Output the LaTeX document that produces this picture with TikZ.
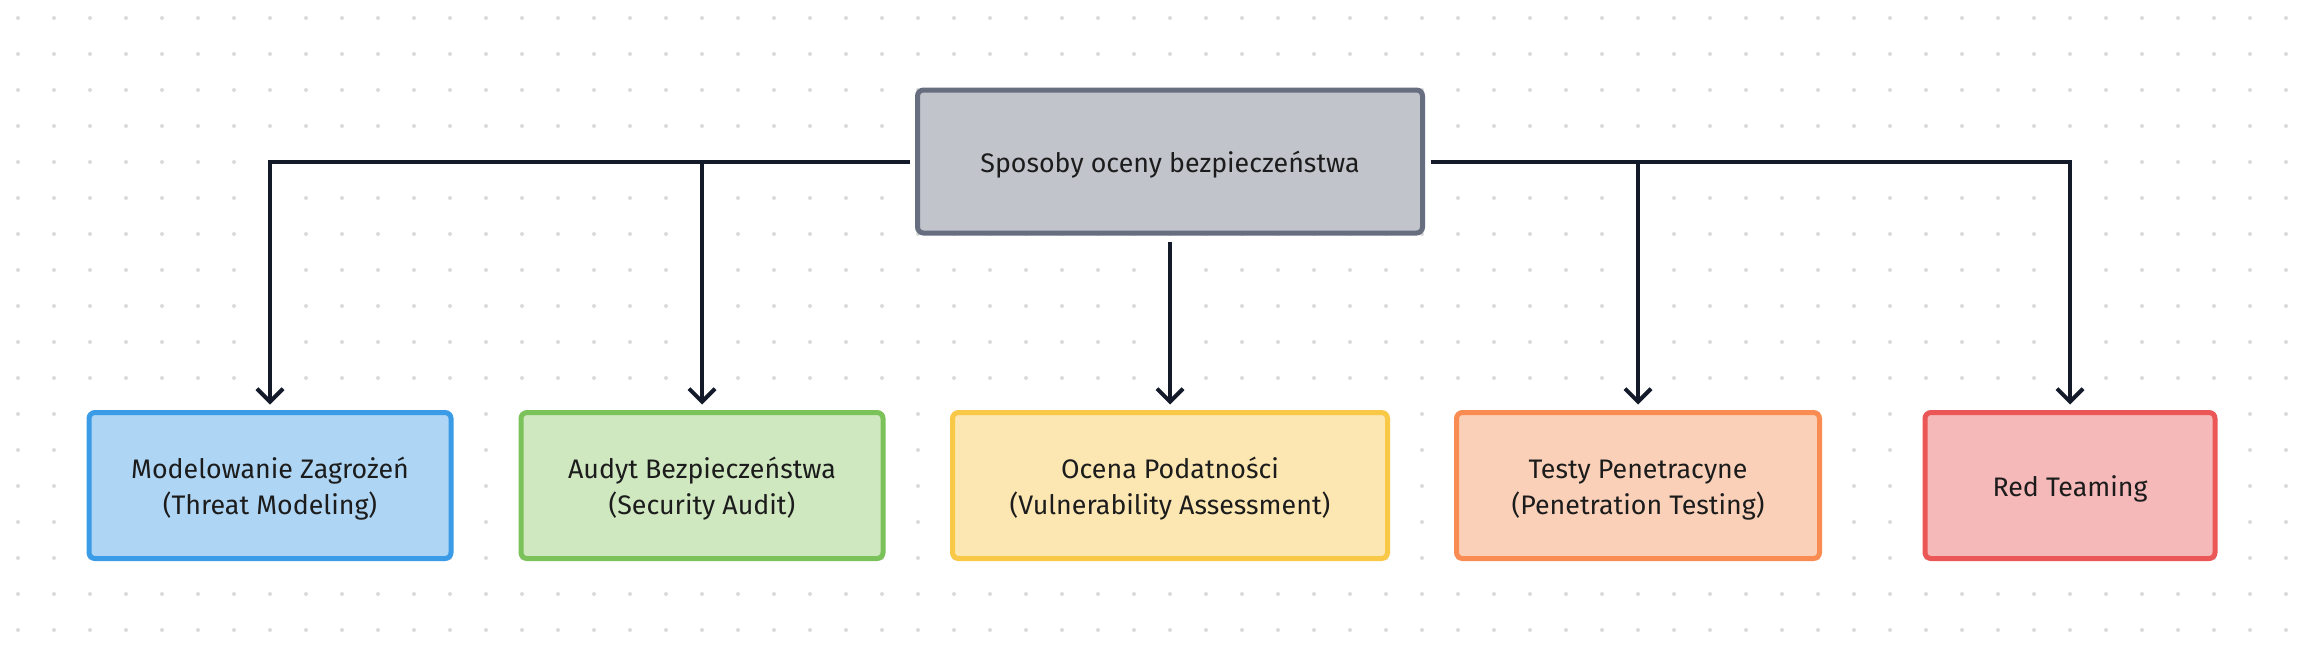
\documentclass[tikz,border=0pt]{standalone}
\usepackage{fontspec}
\setmainfont{Fira Sans}
\usetikzlibrary{arrows.meta}
\definecolor{linec}{HTML}{131A2A}
\definecolor{txtc}{HTML}{1C1C1C}
\definecolor{dotc}{HTML}{DADADA}
\definecolor{topf}{HTML}{C1C4CB}
\definecolor{topd}{HTML}{676E80}
\definecolor{bluef}{HTML}{AED5F4}
\definecolor{blued}{HTML}{3A9CE6}
\definecolor{greenf}{HTML}{CFE8C0}
\definecolor{greend}{HTML}{7BC25A}
\definecolor{yellowf}{HTML}{FCE7B2}
\definecolor{yellowd}{HTML}{F9C846}
\definecolor{orangef}{HTML}{FAD1B8}
\definecolor{oranged}{HTML}{F98C52}
\definecolor{redf}{HTML}{F5B9B9}
\definecolor{redd}{HTML}{EB5656}
\newcommand{\mylbl}[1]{\raisebox{-3.5pt}[\height][\depth]{\begin{tabular}{@{}c@{}}#1\end{tabular}}}
\tikzset{
  box/.style={rectangle, rounded corners=6pt, line width=5pt, outer sep=0pt,
    inner sep=0pt, text=txtc,
    font=\fontsize{26.8}{36.5}\selectfont},
  conn/.style={draw=linec, line width=4pt,
    -{Straight Barb[length=13pt,width=26pt]}},
}
\begin{document}
\begin{tikzpicture}[x=1pt,y=-1pt]
\useasboundingbox (0,0) rectangle (2304,648);
\fill[white] (0,0) rectangle (2304,648);
\foreach \i in {0,...,63}{
  \foreach \j in {0,...,17}{
    \fill[dotc] (18+36*\i,18+36*\j) circle (2pt);
  }
}
\node[box, draw=topd, fill=topf, minimum width=505pt, minimum height=143pt] (top) at (1170,161.5) {\mylbl{Sposoby oceny bezpieczeństwa}};
\node[box, draw=blued, fill=bluef, minimum width=362pt, minimum height=146pt] (m1) at (270,485.5) {\mylbl{Modelowanie Zagrożeń\\(Threat Modeling)}};
\node[box, draw=greend, fill=greenf, minimum width=362pt, minimum height=146pt] (m2) at (702,485.5) {\mylbl{Audyt Bezpieczeństwa\\(Security Audit)}};
\node[box, draw=yellowd, fill=yellowf, minimum width=435pt, minimum height=146pt] (m3) at (1170,485.5) {\mylbl{Ocena Podatności\\(Vulnerability Assessment)}};
\node[box, draw=oranged, fill=orangef, minimum width=363pt, minimum height=146pt] (m4) at (1638,485.5) {\mylbl{Testy Penetracyne\\(Penetration Testing)}};
\node[box, draw=redd, fill=redf, minimum width=290pt, minimum height=146pt] (m5) at (2070,485.5) {\mylbl{Red Teaming}};
\draw[conn, shorten <=8pt, shorten >=8pt] (top.west) -| (m1.north);
\draw[conn, shorten <=8pt, shorten >=8pt] (top.west) -| (m2.north);
\draw[conn, shorten <=9pt, shorten >=8pt] (top.south) -- (m3.north);
\draw[conn, shorten <=8pt, shorten >=8pt] (top.east) -| (m4.north);
\draw[conn, shorten <=8pt, shorten >=8pt] (top.east) -| (m5.north);
\end{tikzpicture}
\end{document}
